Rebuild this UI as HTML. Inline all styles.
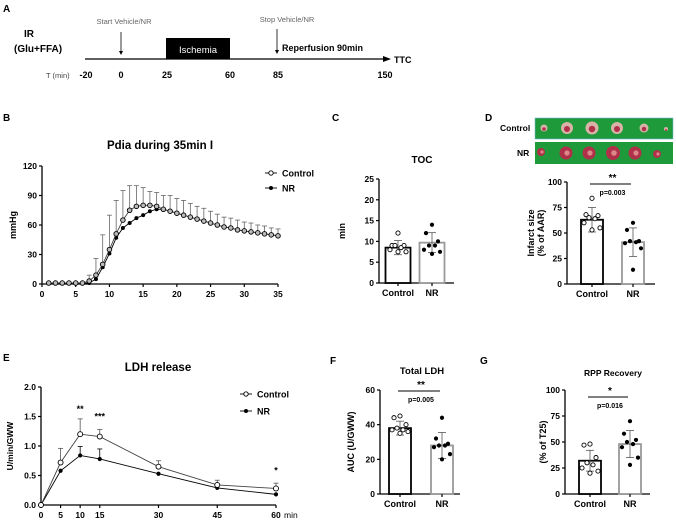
<!DOCTYPE html>
<html><head><meta charset="utf-8"><style>
html,body{margin:0;padding:0;background:#fff}
svg{display:block;font-family:"Liberation Sans",sans-serif}
</style></head><body>
<svg id="fig" width="676" height="522" viewBox="0 0 676 522" xmlns="http://www.w3.org/2000/svg">
<g font-weight="bold">
<text x="3" y="12" font-size="10">A</text>
<text x="24" y="37" font-size="10">IR</text>
<text x="14" y="52" font-size="10">(Glu+FFA)</text>
<line x1="85" y1="59" x2="383" y2="59" stroke="#000" stroke-width="1.3"/>
<polygon points="383,56 391,59 383,62" fill="#000"/>
<text x="394" y="63" font-size="9">TTC</text>
<rect x="166" y="38" width="64" height="21" fill="#000"/>
<text x="198" y="53" font-size="9.5" fill="#fff" font-weight="normal" text-anchor="middle">Ischemia</text>
<text x="124" y="24" font-size="7.5" fill="#666" font-weight="normal" text-anchor="middle">Start Vehicle/NR</text>
<line x1="121" y1="32" x2="121" y2="54" stroke="#000" stroke-width="0.8"/>
<polygon points="119,51 121,55 123,51" fill="#000"/>
<text x="287" y="22" font-size="7.5" fill="#666" font-weight="normal" text-anchor="middle">Stop Vehicle/NR</text>
<line x1="277" y1="29" x2="277" y2="53" stroke="#000" stroke-width="0.8"/>
<polygon points="275,50 277,54 279,50" fill="#000"/>
<text x="282" y="51" font-size="9">Reperfusion 90min</text>
<text x="46" y="78" font-size="7.5" fill="#444" font-weight="normal">T (min)</text>
<g font-size="9" text-anchor="middle">
<text x="86" y="78">-20</text><text x="121" y="78">0</text><text x="167" y="78">25</text><text x="230" y="78">60</text><text x="278" y="78">85</text><text x="385" y="78">150</text>
</g>
</g>
<g id="dyn"></g>
</svg>
<script>
// Panel B data
const bX=[];for(let i=1;i<=35;i++)bX.push(i);
const bControl=[1,1,1,1,1,1,3,9,20,35,51,65,75,79,80,80,79,76,74,72,70,68,66,64,62,60,58,57,55,54,53,52,51,50,49];
const bNR=[1,1,1,1,1,1,1,5,17,31,47,57,62,67,70,74,76,76,74,72,70,68,66,64,62,60,58,57,55,54,53,52,51,50,49];
const bControlSD=[0,0,0,0,0,0,6,17,30,35,34,30,25,21,18,14,14,14,16,15,15,14,13,13,12,11,10,10,10,9,9,8,8,7,7];
const bYTicks=[0,30,60,90,120];
const bXTicks=[0,5,10,15,20,25,30,35];
// Panel C
const cMeans=[8.5,9.7];const cSD=[1.7,2.4];
const cCtrlPts=[12,9,9,9,8.5,8,7.5,7.5];const cNRPts=[14,12,10,9,9,8,7.5,7];
const cYTicks=[0,5,10,15,20,25];
// Panel D
const dMeans=[63,41];const dSD=[12,14];
const dCtrlPts=[84,68,67,65,64,60,55,53];const dNRPts=[60,53,42,42,41,40,35,14];
const dYTicks=[0,25,50,75,100];
// Panel E
const eX=[0,5,10,15,30,45,60];
const eControl=[0,0.72,1.2,1.16,0.65,0.34,0.28];const eControlSD=[0,0.24,0.26,0.12,0.1,0.08,0.09];
const eNR=[0,0.58,0.84,0.78,0.53,0.29,0.18];const eNRSD=[0,0,0.15,0.17,0,0,0];
const eYTicks=[0,0.5,1.0,1.5,2.0];
// Panel F
const fMeans=[38,28];const fSD=[4,7.5];
const fCtrlPts=[45,44,40,38,37,37,36,35];const fNRPts=[44,32,29,28,28,27,23,20];
const fYTicks=[0,20,40,60];
// Panel G
const gMeans=[32,48];const gSD=[10,13];
const gCtrlPts=[48,47,35,30,28,25,22,20];const gNRPts=[70,58,52,50,48,45,35,28];
const gYTicks=[0,25,50,75,100];
const groups=["Control","NR"];

const NS="http://www.w3.org/2000/svg";
const root=document.getElementById('dyn');
function mk(tag,at,parent){const e=document.createElementNS(NS,tag);for(const k in at)e.setAttribute(k,at[k]);(parent||root).appendChild(e);return e;}
function txt(s,at,parent){const e=mk('text',at,parent);e.textContent=s;return e;}
function lin(x1,y1,x2,y2,stroke,w,parent){return mk('line',{x1,y1,x2,y2,stroke,'stroke-width':w},parent);}

function lineChart(o){
  const g=mk('g',{'font-weight':'bold'});
  
  
  const sx=v=>o.x0+(v-o.xmin)/(o.xmax-o.xmin)*(o.x1-o.x0);
  const sy=v=>o.y0-(v-o.ymin)/(o.ymax-o.ymin)*(o.y0-o.y1);
  const ya=lin(o.x0,o.y0,o.x0,o.y1,'#000',1.3,g);
  
  
  const xa=lin(o.x0,o.y0,o.x1,o.y0,'#000',1.3,g);
  
  
  o.yt.forEach(v=>{lin(o.x0-3,sy(v),o.x0,sy(v),'#000',1.2,g);const t=txt(o.yfmt?o.yfmt(v):v,{x:o.x0-5,y:sy(v)+3,'font-size':8.5,'text-anchor':'end'},g);
    
    });
  o.xt.forEach(v=>{lin(sx(v),o.y0,sx(v),o.y0+3,'#000',1.2,g);const t=txt(v,{x:sx(v),y:o.y0+13,'font-size':8.5,'text-anchor':'middle'},g);
    
    });
  o.series.forEach(s=>{
    s.x.forEach((xv,i)=>{if(s.sd&&s.sd[i]>0){const X=sx(xv),Y=sy(s.y[i]),Yt=sy(s.y[i]+s.sd[i]);lin(X,Y,X,Yt,s.ec,0.8,g);lin(X-2.5,Yt,X+2.5,Yt,s.ec,0.8,g);}});
    const p=mk('polyline',{points:s.x.map((xv,i)=>sx(xv)+','+sy(s.y[i])).join(' '),fill:'none',stroke:s.lc,'stroke-width':0.9},g);
    
    
    s.x.forEach((xv,i)=>{const c=mk('circle',{cx:sx(xv),cy:sy(s.y[i]),r:s.r,fill:s.fill,stroke:'#000','stroke-width':s.open?0.9:0},g);
      
      });
  });
  return {g,sx,sy};
}

// Panel B
txt('B',{x:3,y:121,'font-size':10,'font-weight':'bold'});
const B=lineChart({name:'panel-b-pdia-chart',x0:42,x1:278,y0:284,y1:166,xmin:0,xmax:35,ymin:0,ymax:120,yt:bYTicks,xt:bXTicks,
 series:[{name:'nr',x:bX,y:bNR,lc:'#000',fill:'#000',r:2,ec:'#000'},{name:'control',x:bX,y:bControl,sd:bControlSD,lc:'#444',fill:'#bbb',open:true,r:2.3,ec:'#666'}]});
txt('Pdia during 35min I',{x:160,y:149,'font-size':11.5,'text-anchor':'middle'},B.g);
const bYl=txt('mmHg',{transform:'translate(16,225) rotate(-90)','font-size':9,'text-anchor':'middle'},B.g);


function legend(g,x,y,gap,fs){
 lin(x,y,x+12,y,'#000',0.9,g);mk('circle',{cx:x+6,cy:y,r:2.2,fill:'#fff',stroke:'#000','stroke-width':0.9},g);
 const a=txt('Control',{x:x+17,y:y+3.5,'font-size':fs},g);
 
 
 lin(x,y+gap,x+12,y+gap,'#000',0.9,g);mk('circle',{cx:x+6,cy:y+gap,r:2,fill:'#000'},g);
 const b=txt('NR',{x:x+17,y:y+gap+3.5,'font-size':fs},g);
 
 
}
legend(B.g,265,173,15,9);

// Panel E
txt('E',{x:3,y:361,'font-size':10,'font-weight':'bold'});
const E=lineChart({name:'panel-e-ldh-chart',x0:41,x1:276,y0:505,y1:387,xmin:0,xmax:60,ymin:0,ymax:2,yt:eYTicks,xt:eX,yfmt:v=>v.toFixed(1),
 series:[{name:'nr',x:eX,y:eNR,sd:eNRSD,lc:'#000',fill:'#000',r:2.1,ec:'#000'},{name:'control',x:eX,y:eControl,sd:eControlSD,lc:'#444',fill:'#fff',open:true,r:2.5,ec:'#555'}]});
txt('LDH release',{x:158,y:371,'font-size':11.5,'text-anchor':'middle'},E.g);
txt('min',{x:284,y:518,'font-size':8.5,'font-weight':'normal'},E.g);
const eYl=txt('U/min/GWW',{transform:'translate(13,446) rotate(-90)','font-size':8.5,'text-anchor':'middle'},E.g);


legend(E.g,240,394,17,9);
txt('**',{x:E.sx(10),y:E.sy(1.58),'font-size':9,'text-anchor':'middle'},E.g);
txt('***',{x:E.sx(15),y:E.sy(1.45),'font-size':9,'text-anchor':'middle'},E.g);
txt('*',{x:E.sx(60),y:E.sy(0.53),'font-size':9,'text-anchor':'middle'},E.g);

// Bar charts
function barChart(o){
 const g=mk('g',{'font-weight':'bold'});
 
 
 const sy=v=>o.y0-(v-0)/o.ymax*(o.y0-o.y1);
 const ya=lin(o.x0,o.y0,o.x0,o.y1,'#000',1.3,g);
 
 
 const xa=lin(o.x0,o.y0,o.xe,o.y0,'#000',1.3,g);
 
 
 o.yt.forEach(v=>{lin(o.x0-3,sy(v),o.x0,sy(v),'#000',1.2,g);const t=txt(v,{x:o.x0-5,y:sy(v)+3,'font-size':8.5,'text-anchor':'end'},g);
   
   });
 const cols=['#000','#999'];
 groups.forEach((nm,i)=>{
   const cx=o.cx[i],w=o.bw;
   const r=mk('rect',{x:cx-w/2,y:sy(o.means[i]),width:w,height:o.y0-sy(o.means[i]),fill:'#fff',stroke:cols[i],'stroke-width':1.8},g);
   
   
   const yt=sy(o.means[i]+o.sd[i]),yb=sy(o.means[i]-o.sd[i]);
   lin(cx,yb,cx,yt,'#555',0.8,g);lin(cx-4,yt,cx+4,yt,'#555',0.8,g);lin(cx-4,yb,cx+4,yb,'#555',0.8,g);
   const pts=i==0?o.cpts:o.npts;
   const offs=[0,-6,6,-3,3,-8,8,0];
   pts.forEach((v,j)=>{const c=mk('circle',{cx:cx+offs[j],cy:sy(v),r:2.1,fill:i==0?'#fff':'#000',stroke:'#000','stroke-width':i==0?0.9:0},g);
     
     });
   lin(cx,o.y0,cx,o.y0+3,'#000',1.2,g);
   const t=txt(nm,{x:cx,y:o.y0+13,'font-size':9,'text-anchor':'middle'},g);
   
   
 });
 if(o.title){const t=txt(o.title,{x:o.tx,y:o.ty,'font-size':o.tfs||9.5,'text-anchor':'middle'},g);
   
   }
 o.ylab.forEach((s,k)=>{const t=txt(s,{transform:`translate(${o.ylx+k*10},${(o.y0+o.y1)/2}) rotate(-90)`,'font-size':9,'text-anchor':'middle'},g);
   
   });
 if(o.sig){lin(o.cx[0]-2,o.sig.y,o.cx[1]-2,o.sig.y,'#000',1,g);
   txt(o.sig.s,{x:(o.cx[0]+o.cx[1])/2,y:o.sig.y-3,'font-size':10,'text-anchor':'middle'},g);
   txt(o.sig.p,{x:(o.cx[0]+o.cx[1])/2,y:o.sig.y+11,'font-size':7,'text-anchor':'middle'},g);}
 return g;
}
txt('C',{x:332,y:121,'font-size':10,'font-weight':'bold'});
barChart({name:'panel-c-toc-chart',x0:379,y0:283,y1:179,xe:454,ymax:25,yt:cYTicks,cx:[398,432],bw:25,means:cMeans,sd:cSD,cpts:cCtrlPts,npts:cNRPts,title:'TOC',tx:422,ty:163,tfs:10,ylab:['min'],ylx:345});
txt('D',{x:485,y:121,'font-size':10,'font-weight':'bold'});
// D images
const imgG=mk('g',{});


mk('rect',{x:535,y:118,width:138,height:21,fill:'#1f9a3a',stroke:'#7ab8d8','stroke-width':0.6},imgG);
mk('rect',{x:535,y:142,width:138,height:22,fill:'#1f9a3a'},imgG);
const sl1=[[544,128,3.5],[567,128,6],[592,128,6.5],[617,128,6],[644,128,4.5],[666,129,2]];
const sl2=[[541,152,4],[566,153,6.5],[589,153,6.5],[613,153,7],[635,153,6.5],[657,154,4]];
sl1.forEach(s=>{mk('circle',{cx:s[0],cy:s[1],r:s[2],fill:'#d9b3a8'},imgG);mk('circle',{cx:s[0],cy:s[1]+1,r:s[2]*0.5,fill:'#b0304a'},imgG);});
sl2.forEach(s=>{mk('circle',{cx:s[0],cy:s[1],r:s[2],fill:'#b0304a'},imgG);mk('circle',{cx:s[0]+1,cy:s[1],r:s[2]*0.4,fill:'#d88'},imgG);});
txt('Control',{x:500,y:131,'font-size':8.5,'font-weight':'bold'});
txt('NR',{x:517,y:156,'font-size':8.5,'font-weight':'bold'});
barChart({name:'panel-d-infarct-chart',x0:567,y0:284,y1:182,xe:655,ymax:100,yt:dYTicks,cx:[592,633],bw:22,means:dMeans,sd:dSD,cpts:dCtrlPts,npts:dNRPts,ylab:['Infarct size','(% of AAR)'],ylx:534,sig:{y:184,s:'**',p:'p=0.003'}});
txt('F',{x:330,y:364,'font-size':10,'font-weight':'bold'});
barChart({name:'panel-f-total-ldh-chart',x0:380,y0:494,y1:390,xe:460,ymax:60,yt:fYTicks,cx:[400,442],bw:22,means:fMeans,sd:fSD,cpts:fCtrlPts,npts:fNRPts,title:'Total LDH',tx:422,ty:374,ylab:['AUC (U/GWW)'],ylx:354,sig:{y:391,s:'**',p:'p=0.005'}});
txt('G',{x:480,y:364,'font-size':10,'font-weight':'bold'});
barChart({name:'panel-g-rpp-chart',x0:565,y0:494,y1:390,xe:650,ymax:100,yt:gYTicks,cx:[590,630],bw:22,means:gMeans,sd:gSD,cpts:gCtrlPts,npts:gNRPts,title:'RPP Recovery',tx:613,ty:376,tfs:8.5,ylab:['(% of T25)'],ylx:546,sig:{y:397,s:'*',p:'p=0.016'}});
</script>
</body></html>
